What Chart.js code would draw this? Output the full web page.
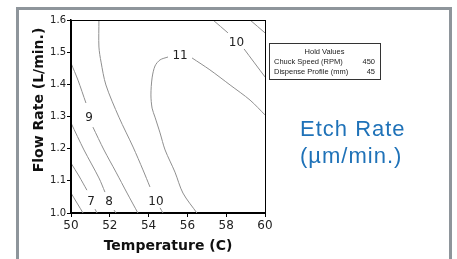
<!DOCTYPE html>
<html>
<head>
<meta charset="utf-8">
<script src="https://cdn.jsdelivr.net/npm/chart.js@4.4.1/dist/chart.umd.min.js"></script>
<style>
  html, body { margin: 0; padding: 0; background: #fff; }
  #wrap { position: relative; width: 457px; height: 259px; overflow: hidden; }
  #frame { position: absolute; left: 16px; top: 7px; width: 430px; height: 280px; border: 3px solid #8e959b; }
  canvas { position: absolute; left: 0; top: 0; }
  #hold { position: absolute; left: 269px; top: 43px; width: 110px; height: 35px; border: 1px solid #333;
          font: 7.5px "Liberation Sans", Arial, sans-serif; color: #222; background: #fff; }
  #hold div { position: absolute; left: 4px; right: 5px; white-space: nowrap; }
  #hold span { float: right; }
  .etch { position: absolute; left: 300px; font: 22px "Liberation Sans", Arial, sans-serif; letter-spacing: 1px;
          color: #1f72b8; line-height: 22px; white-space: nowrap; }
</style>
</head>
<body>
<div id="wrap">
  <div id="frame"></div>
  <canvas id="contour" width="457" height="259"></canvas>
  <div id="hold">
    <div style="top:3px; text-align:center;">Hold Values</div>
    <div style="top:13px;">Chuck Speed (RPM)<span>450</span></div>
    <div style="top:23px;">Dispense Profile (mm)<span>45</span></div>
  </div>
  <div class="etch" style="top:118px;">Etch Rate</div>
  <div class="etch" style="top:145px;">(µm/min.)</div>
</div>
<script>
// axis ticks
const xTicks = [50, 52, 54, 56, 58, 60];
const yTicks = [1.0, 1.1, 1.2, 1.3, 1.4, 1.5, 1.6];

// contour lines (null = break for a label)
const c6x = [50.00, 50.62];
const c6y = [1.062, 1.000];
const c7x = [50.00, 50.41, 50.82, null, 51.24, 51.34];
const c7y = [1.155, 1.115, 1.071, null, 1.012, 1.000];
const c8x = [50.00, 50.67, 51.44, 51.75, null, 52.22, 52.32];
const c8y = [1.280, 1.196, 1.109, 1.065, null, 1.009, 1.000];
const c9x = [50.00, 50.36, 50.77, null, 51.13, 51.70, 52.32, 52.89, 53.45];
const c9y = [1.466, 1.413, 1.342, null, 1.267, 1.196, 1.127, 1.062, 1.000];
const c10x = [51.44, 51.44, 51.55, 51.80, 52.47, 53.20, 53.71, 54.07, null, 54.59, 54.74];
const c10y = [1.600, 1.516, 1.469, 1.398, 1.298, 1.205, 1.134, 1.081, null, 1.016, 1.000];
const c11x = [56.49, 55.77, 55.36, 54.85, 54.59, 54.33, 54.18, 54.12, 54.18, 54.33, 54.59, 55.00, null, 56.24, 57.16, 58.20, 59.23, 60.00];
const c11y = [1.000, 1.062, 1.127, 1.196, 1.249, 1.298, 1.326, 1.367, 1.420, 1.457, 1.476, 1.485, null, 1.482, 1.445, 1.398, 1.351, 1.305];
const c10bx = [57.32, 58.09, null, 58.92, 60.00];
const c10by = [1.600, 1.560, null, 1.510, 1.423];
const c9bx = [59.23, 60.00];
const c9by = [1.600, 1.560];

// contour labels
const labelText = ['7', '8', '9', '10', '10', '11'];
const labelX = [51.03, 51.96, 50.93, 54.38, 58.53, 55.62];
const labelY = [1.034, 1.034, 1.295, 1.034, 1.530, 1.488];

const xTitle = 'Temperature (C)';
const yTitle = 'Flow Rate (L/min.)';

function line(xs, ys) {
    return {
        data: xs.map(function(x, i) { return { x: x, y: ys[i] }; }),
        showLine: true,
        pointRadius: 0,
        borderColor: '#8f8f8f',
        borderWidth: 1,
        tension: 0.3,
        fill: false
    };
}

const overlay = {
    id: 'overlay',
    afterDatasetsDraw: function(chart) {
        var ctx = chart.ctx, a = chart.chartArea, xs = chart.scales.x, ys = chart.scales.y;
        ctx.save();
        ctx.strokeStyle = '#000';
        ctx.lineWidth = 1;
        ctx.strokeRect(a.left + 0.5, a.top + 0.5, a.right - a.left, a.bottom - a.top);
        ctx.fillStyle = '#222';
        ctx.font = '12px "DejaVu Sans"';
        ctx.textAlign = 'center';
        ctx.textBaseline = 'middle';
        labelText.forEach(function(t, i) {
            ctx.fillText(t, xs.getPixelForValue(labelX[i]), ys.getPixelForValue(labelY[i]));
        });
        ctx.translate(39, 100);
        ctx.rotate(-Math.PI / 2);
        ctx.font = 'bold 14px "DejaVu Sans"';
        ctx.fillStyle = '#111';
        ctx.fillText(yTitle, 0, 0);
        ctx.restore();
    }
};

var ctx = document.getElementById('contour').getContext('2d');
new Chart(ctx, {
    type: 'scatter',
    data: {
        datasets: [line(c6x, c6y), line(c7x, c7y), line(c8x, c8y), line(c9x, c9y),
                   line(c10x, c10y), line(c11x, c11y), line(c10bx, c10by), line(c9bx, c9by)]
    },
    options: {
        responsive: false,
        animation: false,
        layout: { padding: { left: 20, top: 20, right: 192, bottom: 0 } },
        plugins: { legend: { display: false }, tooltip: { enabled: false } },
        scales: {
            x: {
                type: 'linear', min: 50, max: 60,
                afterBuildTicks: function(s) { s.ticks = xTicks.map(function(v) { return { value: v }; }); },
                afterFit: function(s) { s.height = 46; },
                grid: { drawOnChartArea: false, drawTicks: true, tickLength: 4, color: '#000', tickColor: '#000' },
                border: { display: true, color: '#000', width: 1.5 },
                ticks: { color: '#222', font: { family: 'DejaVu Sans', size: 12 }, padding: 2, maxRotation: 0, autoSkip: false },
                title: { display: true, text: xTitle, color: '#111', font: { family: 'DejaVu Sans', size: 14, weight: 'bold' }, padding: { top: 4, bottom: 4 } }
            },
            y: {
                type: 'linear', min: 1.0, max: 1.6,
                afterBuildTicks: function(s) { s.ticks = yTicks.map(function(v) { return { value: v }; }); },
                afterFit: function(s) { s.width = 51; },
                grid: { drawOnChartArea: false, drawTicks: true, tickLength: 4, color: '#000', tickColor: '#000' },
                border: { display: true, color: '#000', width: 1.5 },
                ticks: { color: '#222', font: { family: 'DejaVu Sans', size: 10 }, padding: 1, autoSkip: false,
                         callback: function(v) { return v.toFixed(1); } }
            }
        }
    },
    plugins: [overlay]
});
</script>
</body>
</html>
